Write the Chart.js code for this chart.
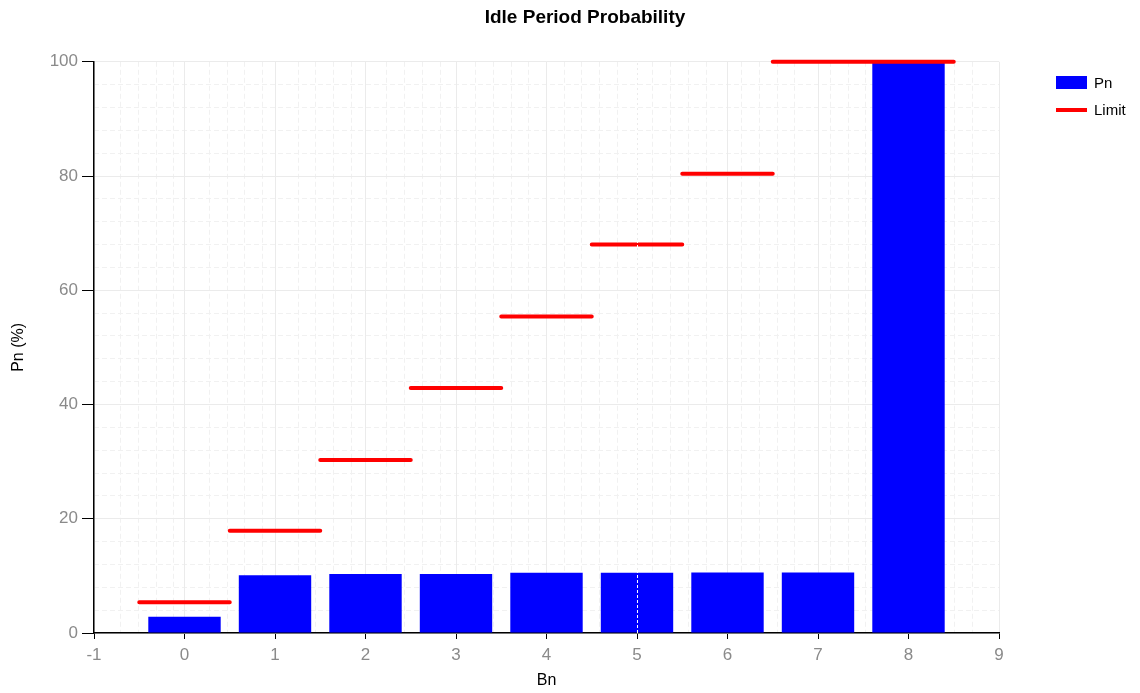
<!DOCTYPE html>
<html lang="en">
<head>
    <meta charset="UTF-8">
    <title>Idle Period Probability</title>
    <script src="https://cdn.jsdelivr.net/npm/chart.js@4"></script>
    <style>
        body { margin: 0; background: #fff; }
        .wrap { position: relative; width: 1140px; height: 693px; }
        .legenda { position: absolute; left: 1056px; top: 75px; font: 15px 'Liberation Sans', Arial, sans-serif; color: #000; }
        .item { display: flex; align-items: center; height: 15px; margin-bottom: 12px; }
        .caixa { width: 31px; height: 13px; background: #0000ff; margin-right: 7px; }
        .linha { width: 31px; height: 4px; background: #ff0000; margin-right: 7px; }
    </style>
</head>
<body>
<div class="wrap">
    <canvas id="grafico" width="1140" height="693"></canvas>
    <div class="legenda">
        <div class="item"><div class="caixa"></div><span>Pn</span></div>
        <div class="item"><div class="linha"></div><span>Limit</span></div>
    </div>
</div>
<script>
    // valores
    var categorias = [0, 1, 2, 3, 4, 5, 6, 7, 8]
    var valoresPn = [2.85, 10.1, 10.35, 10.35, 10.55, 10.55, 10.6, 10.6, 100]
    var valoresLimite = [5.4, 17.9, 30.3, 42.9, 55.4, 68.0, 80.4, 100, 100]
    var eixoX = { min: -1, max: 9, passo: 1, passoMenor: 0.2 }
    var eixoY = { min: 0, max: 100, passo: 20, passoMenor: 4 }
    var cursorX = 5

    var dadosBarras = categorias.map(function (c, i) {
        return { x: c, y: valoresPn[i] }
    })
    var dadosLimite = []
    categorias.forEach(function (c, i) {
        dadosLimite.push({ x: c - 0.5, y: valoresLimite[i] })
        dadosLimite.push({ x: c + 0.5, y: valoresLimite[i] })
        dadosLimite.push({ x: c + 0.5, y: null })
    })

    var fonte = "'Liberation Sans', Arial, sans-serif"

    // linha tracejada branca do cursor
    var linhaCursor = {
        id: 'linhaCursor',
        afterLayout: function (chart) {
            // titulo centrado um pouco a direita, como no original
            chart.titleBlock.left = 0
            chart.titleBlock.right = 1170
        },
        afterDatasetsDraw: function (chart) {
            var ctx = chart.ctx
            var area = chart.chartArea
            var px = chart.scales.x.getPixelForValue(cursorX)
            ctx.save()
            ctx.strokeStyle = '#ffffff'
            ctx.lineWidth = 1
            ctx.setLineDash([3, 2])
            ctx.beginPath()
            ctx.moveTo(Math.round(px) + 0.5, area.bottom)
            ctx.lineTo(Math.round(px) + 0.5, area.top)
            ctx.stroke()
            ctx.restore()
        }
    }

    function corMenor(passo) {
        return function (c) {
            if (!c.tick) return 'rgba(0,0,0,0)'
            var r = Math.abs(c.tick.value / passo - Math.round(c.tick.value / passo))
            return r < 1e-6 ? 'rgba(0,0,0,0)' : '#f1f1f1'
        }
    }

    var grafico = new Chart(document.getElementById('grafico'), {
        type: 'bar',
        data: {
            datasets: [{
                type: 'line',
                label: 'Limit',
                data: dadosLimite,
                borderColor: '#ff0000',
                borderWidth: 4,
                borderCapStyle: 'round',
                pointRadius: 0,
                spanGaps: false,
                clip: false,
                order: 0,
                xAxisID: 'x',
                yAxisID: 'y'
            }, {
                label: 'Pn',
                data: dadosBarras,
                backgroundColor: '#0000ff',
                borderWidth: 0,
                barPercentage: 0.8,
                categoryPercentage: 1,
                order: 1,
                xAxisID: 'x',
                yAxisID: 'y'
            }]
        },
        options: {
            responsive: false,
            animation: false,
            layout: { padding: { right: 141, bottom: 0, left: 0, top: 0 } },
            plugins: {
                legend: { display: false },
                tooltip: { enabled: false },
                title: {
                    display: true,
                    text: 'Idle Period Probability',
                    color: '#000',
                    font: { family: fonte, size: 19, weight: 'bold' },
                    padding: { top: 6, bottom: 33 }
                }
            },
            scales: {
                x2: {
                    type: 'linear',
                    position: 'bottom',
                    min: eixoX.min, max: eixoX.max,
                    ticks: { display: false, stepSize: eixoX.passoMenor },
                    grid: { offset: false, drawTicks: false, color: corMenor(eixoX.passo) },
                    border: { display: false, dash: [5, 3] },
                    afterFit: function (s) { s.height = 0 }
                },
                y2: {
                    type: 'linear',
                    position: 'left',
                    min: eixoY.min, max: eixoY.max,
                    ticks: { display: false, stepSize: eixoY.passoMenor },
                    grid: { drawTicks: false, color: corMenor(eixoY.passo) },
                    border: { display: false, dash: [5, 3] },
                    afterFit: function (s) { s.width = 0 }
                },
                x: {
                    type: 'linear',
                    position: 'bottom',
                    offset: false,
                    min: eixoX.min, max: eixoX.max,
                    ticks: { stepSize: eixoX.passo, color: '#8a8a8a', padding: 6, font: { family: fonte, size: 17 } },
                    grid: { offset: false, color: '#ebebeb', tickColor: '#000', tickLength: 6 },
                    border: { color: '#000', width: 1.5 },
                    title: { display: true, text: 'Bn', color: '#000', font: { family: fonte, size: 16 }, padding: { top: 4, bottom: 3 } },
                    afterFit: function (s) { s.height = 60 }
                },
                y: {
                    type: 'linear',
                    position: 'left',
                    min: eixoY.min, max: eixoY.max,
                    ticks: { stepSize: eixoY.passo, color: '#8a8a8a', padding: 4, font: { family: fonte, size: 17 } },
                    grid: { color: '#ebebeb', tickColor: '#000', tickLength: 12 },
                    border: { color: '#000', width: 1.5 },
                    title: { display: true, text: 'Pn (%)', color: '#000', font: { family: fonte, size: 16 }, padding: { top: 9, bottom: 0 } },
                    afterFit: function (s) { s.width = 94 }
                }
            }
        },
        plugins: [linhaCursor]
    })
</script>
</body>
</html>
